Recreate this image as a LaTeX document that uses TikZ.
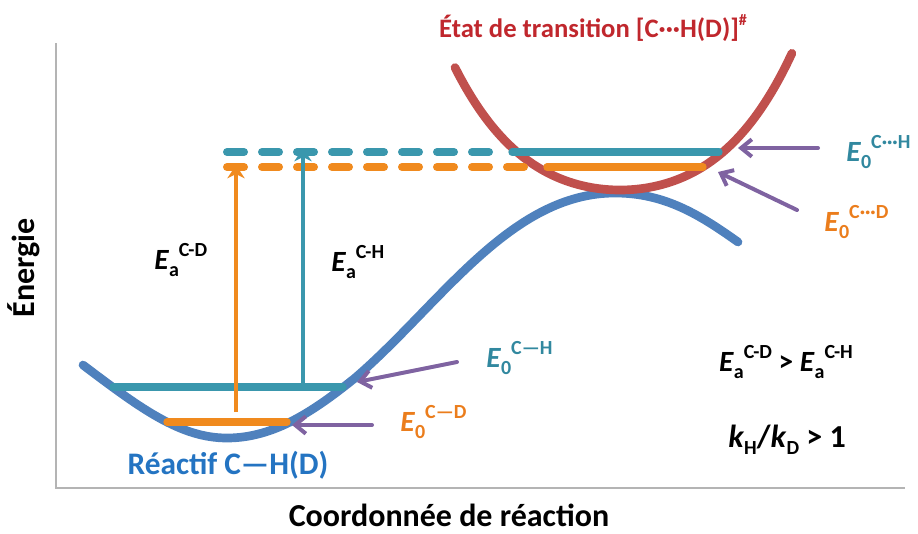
\documentclass[tikz,border=0pt]{standalone}
\usepackage{fontspec}
\setmainfont{Carlito}
\usetikzlibrary{arrows.meta}
\definecolor{cblue}{HTML}{4F81BD}
\definecolor{cteal}{HTML}{3A97AD}
\definecolor{corange}{HTML}{F08A1E}
\definecolor{cred}{HTML}{C0504D}
\definecolor{ctitle}{HTML}{C0272D}
\definecolor{cpurple}{HTML}{7F63A1}
\definecolor{caxis}{HTML}{B4B4B4}
\definecolor{ctealtext}{HTML}{31889F}
\definecolor{corangetext}{HTML}{EB7D1C}
\definecolor{cbluetext}{HTML}{2474C2}
\newcommand{\smallsz}{\fontsize{15}{15}\selectfont}
\newcommand{\Elab}[2]{\textit{E}\raisebox{-0.45ex}{\smallsz #1}\raisebox{0.9ex}{\smallsz #2}}
\tikzset{
  txt/.style={font=\fontsize{22}{26}\selectfont\bfseries, inner sep=0pt},
  ttl/.style={font=\fontsize{20}{24}\selectfont\bfseries, inner sep=0pt},
  axislab/.style={font=\fontsize{24}{28}\selectfont\bfseries, inner sep=0pt},
  curveb/.style={cblue, line width=6.5pt, line cap=round},
  curver/.style={cred, line width=6.5pt, line cap=round},
  lvlteal/.style={cteal, line width=5.5pt, line cap=round},
  lvlorange/.style={corange, line width=5.5pt, line cap=round},
  dashlvl/.style={line width=6pt, line cap=round, dash pattern=on 12.75pt off 13.5pt},
  vteal/.style={cteal, line width=2.6pt, -{Stealth[length=10pt,width=13pt]}},
  vorange/.style={corange, line width=2.6pt, -{Stealth[length=10pt,width=13pt]}},
  parrow/.style={cpurple, line width=3pt, line cap=round, -{Straight Barb[length=8pt,width=13pt]}},
  axisline/.style={caxis, line width=1.6pt}
}
\begin{document}
\begin{tikzpicture}[x=0.75pt,y=-0.75pt]
\useasboundingbox (0,0) rectangle (918,533);
% axes
\draw[axisline] (56,43) -- (56,488) -- (905,488);
\node[axislab, rotate=90] (ylab) at (24,268) {Énergie};
\node[axislab] (xlab) at (449,515) {Coordonnée de réaction};
% reactant curve
\draw[curveb] (83,365) .. controls (140,408) and (180,438) .. (227,438)
  .. controls (275,438) and (315,410) .. (355,378)
  .. controls (440,305) and (510,193) .. (615,193)
  .. controls (665,193) and (700,215) .. (738,242);
% transition state curve
\draw[curver] plot[domain=-1.65:1.72, samples=70, smooth] ({620+100*\x},{190-30*\x*\x-5.5*\x*\x*\x*\x});
% levels (reactant)
\coordinate (rtl) at (113,387);
\coordinate (rtr) at (343,387);
\coordinate (rol) at (167,422);
\coordinate (ror) at (287,422);
\draw[lvlteal] (rtl) -- (rtr);
\draw[lvlorange] (rol) -- (ror);
% levels (transition state)
\coordinate (tdl) at (227,152);
\coordinate (tde) at (500,152);
\coordinate (tsl) at (512,152);
\coordinate (tsr) at (719,152);
\coordinate (odl) at (227,167);
\coordinate (ode) at (526,167);
\coordinate (osl) at (547,167);
\coordinate (osr) at (703,167);
\draw[dashlvl, cteal] (tdl) -- (tde);
\draw[dashlvl, corange] (odl) -- (ode);
\draw[lvlteal] (tsl) -- (tsr);
\draw[lvlorange] (osl) -- (osr);
% activation arrows
\coordinate (va1) at (236,412);
\coordinate (va2) at (236,165);
\coordinate (vb1) at (303,387);
\coordinate (vb2) at (303,148);
\draw[vorange] (va1) -- (va2);
\draw[vteal] (vb1) -- (vb2);
% purple pointers
\coordinate (p1s) at (818,148);
\coordinate (p1e) at (738,148);
\coordinate (p2s) at (797,210);
\coordinate (p2e) at (718,172);
\coordinate (p3s) at (457,362);
\coordinate (p3e) at (357,382);
\coordinate (p4s) at (372,425);
\coordinate (p4e) at (292,425);
\draw[parrow] (p1s) -- (p1e);
\draw[parrow] (p2s) -- (p2e);
\draw[parrow] (p3s) -- (p3e);
\draw[parrow] (p4s) -- (p4e);
% labels
\node[ttl, ctitle] (title) at (593,28) {État de transition [C···H(D)]\raisebox{0.9ex}{\fontsize{12}{12}\selectfont\#}};
\node[txt, ctealtext, anchor=west] (e0th) at (846,152) {\Elab{0}{C···H}};
\node[txt, corangetext, anchor=west] (e0td) at (824,222) {\Elab{0}{C···D}};
\node[txt, ctealtext, anchor=west] (e0rh) at (486,358) {\Elab{0}{C—H}};
\node[txt, corangetext, anchor=west] (e0rd) at (400,422) {\Elab{0}{C—D}};
\node[txt, anchor=west] (eacd) at (154,260) {\Elab{a}{C-D}};
\node[txt, anchor=west] (each) at (331,262) {\Elab{a}{C-H}};
\node[txt] (cmp) at (786,362) {\Elab{a}{C-D} > \Elab{a}{C-H}};
\node[txt, font=\fontsize{24}{28}\selectfont\bfseries] (kie) at (787,440) {\textit{k}\raisebox{-0.45ex}{\smallsz H}/\textit{k}\raisebox{-0.45ex}{\smallsz D} > 1};
\node[txt, cbluetext, font=\fontsize{23.5}{28}\selectfont\bfseries] (react) at (228,465) {Réactif C—H(D)};
\end{tikzpicture}
\end{document}
